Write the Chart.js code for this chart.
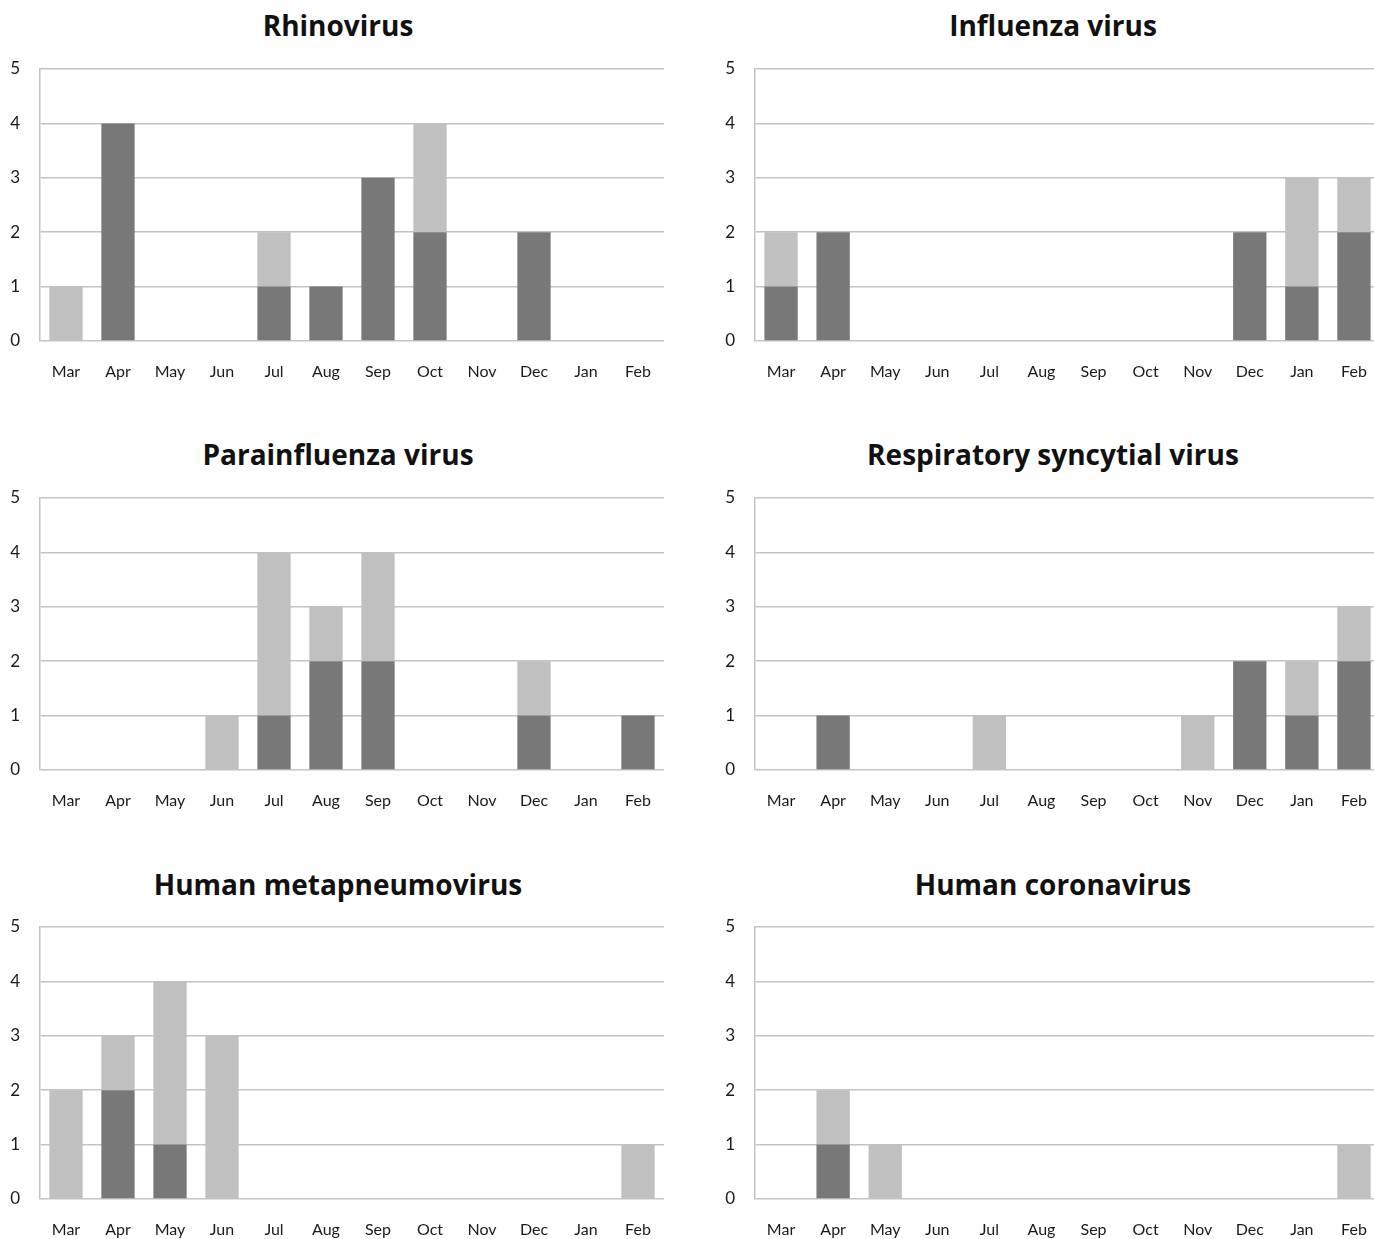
<!DOCTYPE html>
<html>
<head>
<meta charset="utf-8">
<script src="https://cdn.jsdelivr.net/npm/chart.js@4/dist/chart.umd.min.js"></script>
<style>
  html, body { margin: 0; background: #fff; overflow: hidden; }
  .pane { position: absolute; }
  .ttl { position: absolute; height: 40px; line-height: 40px; text-align: center;
         font-family: 'Open Sans', Lato, sans-serif; font-weight: bold; font-size: 28px; color: #111; }
  .l { left: 0; width: 676px; }
  .r { left: 732px; width: 642px; }
</style>
</head>
<body>
<div class="ttl l" style="top:5px">Rhinovirus</div>
<div class="ttl r" style="top:5px">Influenza virus</div>
<div class="ttl l" style="top:434px">Parainfluenza virus</div>
<div class="ttl r" style="top:434px">Respiratory syncytial virus</div>
<div class="ttl l" style="top:864px">Human metapneumovirus</div>
<div class="ttl r" style="top:864px">Human coronavirus</div>
<div class="pane" style="left:0;top:0;width:680px;height:381px"><canvas id="c1"></canvas></div>
<div class="pane" style="left:715px;top:0;width:665px;height:381px"><canvas id="c2"></canvas></div>
<div class="pane" style="left:0;top:429px;width:680px;height:381px"><canvas id="c3"></canvas></div>
<div class="pane" style="left:715px;top:429px;width:665px;height:381px"><canvas id="c4"></canvas></div>
<div class="pane" style="left:0;top:858px;width:680px;height:381px"><canvas id="c5"></canvas></div>
<div class="pane" style="left:715px;top:858px;width:665px;height:381px"><canvas id="c6"></canvas></div>
<script>
// meses
var months = ["Mar","Apr","May","Jun","Jul","Aug","Sep","Oct","Nov","Dec","Jan","Feb"];
var yTicks = [0, 1, 2, 3, 4, 5];

// Rhinovirus
var rhinoDark  = [0,4,0,0,1,1,3,2,0,2,0,0];
var rhinoLight = [1,0,0,0,1,0,0,2,0,0,0,0];
// Influenza
var fluDark  = [1,2,0,0,0,0,0,0,0,2,1,2];
var fluLight = [1,0,0,0,0,0,0,0,0,0,2,1];
// Parainfluenza
var paraDark  = [0,0,0,0,1,2,2,0,0,1,0,1];
var paraLight = [0,0,0,1,3,1,2,0,0,1,0,0];
// RSV
var rsvDark  = [0,1,0,0,0,0,0,0,0,2,1,2];
var rsvLight = [0,0,0,0,1,0,0,0,1,0,1,1];
// hMPV
var hmpvDark  = [0,2,1,0,0,0,0,0,0,0,0,0];
var hmpvLight = [2,1,3,3,0,0,0,0,0,0,0,1];
// Coronavirus
var coronaDark  = [0,1,0,0,0,0,0,0,0,0,0,0];
var coronaLight = [0,1,1,0,0,0,0,0,0,0,0,1];

var darkColor = "#787878";
var lightColor = "#c0c0c0";
var gridColor = "#c4c4c4";
var fontFam = "Lato, 'Open Sans', sans-serif";

function makeChart(id, dark, light, padRight) {
    new Chart(document.getElementById(id), {
        type: 'bar',
        data: {
            labels: months,
            datasets: [
                { data: dark, backgroundColor: darkColor, barPercentage: 0.64, categoryPercentage: 1 },
                { data: light, backgroundColor: lightColor, barPercentage: 0.64, categoryPercentage: 1 }
            ]
        },
        options: {
            responsive: true,
            maintainAspectRatio: false,
            animation: false,
            layout: { autoPadding: false, padding: { left: 0, right: padRight, top: 69, bottom: 0 } },
            plugins: {
                legend: { display: false },
                tooltip: { enabled: false },
                title: { display: false }
            },
            scales: {
                x: {
                    stacked: true,
                    grid: { display: false, drawTicks: false },
                    border: { display: false },
                    // lineHeight grande para bajar las etiquetas sin padding lateral
                    ticks: { color: "#1a1a1a", font: { family: fontFam, size: 16, lineHeight: 3.2 }, padding: 5, autoSkip: false, maxRotation: 0 },
                    afterFit: function(axis) { axis.height = 40; }
                },
                y: {
                    stacked: true,
                    min: 0,
                    max: 5,
                    afterBuildTicks: function(axis) { axis.ticks = yTicks.map(function(v){ return { value: v }; }); },
                    grid: { color: gridColor, lineWidth: 1.5, drawTicks: false },
                    border: { display: true, color: gridColor, width: 1.5 },
                    ticks: { color: "#1a1a1a", font: { family: fontFam, size: 17 }, padding: 20 },
                    afterFit: function(axis) { axis.width = 40; }
                }
            }
        }
    });
}

function onPageStart() {
    makeChart('c1', rhinoDark, rhinoLight, 16);
    makeChart('c2', fluDark, fluLight, 0);
    makeChart('c3', paraDark, paraLight, 16);
    makeChart('c4', rsvDark, rsvLight, 0);
    makeChart('c5', hmpvDark, hmpvLight, 16);
    makeChart('c6', coronaDark, coronaLight, 0);
}
onPageStart();
</script>
</body>
</html>
